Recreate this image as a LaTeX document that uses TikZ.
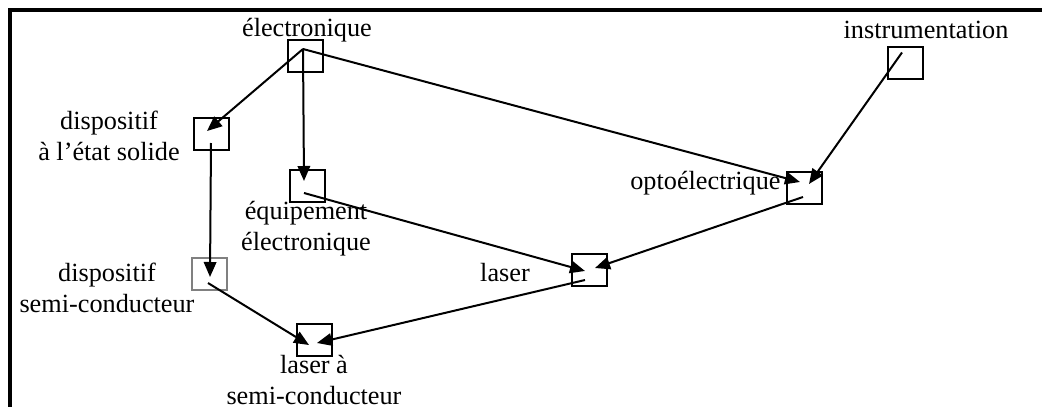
\documentclass[tikz,border=0pt]{standalone}
\usepackage{fontspec}
\setmainfont{Liberation Serif}
\usetikzlibrary{arrows.meta,calc}
\definecolor{ink}{HTML}{000000}
\definecolor{pale}{HTML}{808080}
\tikzset{
  box/.style={draw=ink,line width=0.8pt,minimum width=14pt,minimum height=12.8pt,inner sep=0pt},
  lbl/.style={text=ink,font=\fontsize{10.5}{12.4}\selectfont,align=center,inner sep=0pt},
  link/.style={-{Triangle[length=6pt,width=5pt]},ink,line width=0.8pt}
}

\begin{document}
\begin{tikzpicture}[x=0.4pt,y=-0.4pt]
  \useasboundingbox (0,0) rectangle (1042,407);
  \draw[ink,line width=1.4pt] (10,407) -- (10,10) -- (1042,10);

  % the boxes
  \node[box] (elec)  at (305.5,56)  {};
  \node[box] (solid) at (211.5,134) {};
  \node[box] (equip) at (307.5,185.5) {};
  \node[box,draw=pale] (semi) at (209.5,274) {};
  \node[box] (lsc)   at (314,339.5) {};
  \node[box] (laser) at (589,269.5) {};
  \node[box] (opto)  at (804,187.5) {};
  \node[box] (instr) at (905,62.5)  {};

  % their labels
  \node[lbl] (elecT)  at (307,30)  {électronique};
  \node[lbl] (instrT) at (926,30)  {instrumentation};
  \node[lbl] (solidT) at (109,136) {dispositif\\à l’état solide};
  \node[lbl] (equipT) at (306,229) {équipement\\électronique};
  \node[lbl] (semiT)  at (107,288) {dispositif\\semi-conducteur};
  \node[lbl] (lscT)   at (314,380) {laser à\\semi-conducteur};
  \node[lbl] (laserT) at (505,273) {laser};
  \node[lbl,anchor=east] (optoT) at (781,183) {optoélectrique};

  \foreach \a/\ax/\ay/\b/\bx/\by in {
      elec/-2.5/-7/solid/-4.5/-3,
      elec/-2.5/-7/equip/-3.5/-4.5,
      elec/-2.5/-7/opto/-4/-5.5,
      instr/-3/-10/opto/5/-3.5,
      solid/-0.5/9/semi/0.5/3,
      equip/-3.5/7.5/laser/-4/1.5,
      opto/-1/9.5/laser/6/-1.5,
      laser/-4/10.5/lsc/3/3.5,
      semi/-1.5/9/lsc/-5/5.5}
    \draw[link] ($(\a)+(\ax,\ay)$) -- ($(\b)+(\bx,\by)$);
\end{tikzpicture}
\end{document}
